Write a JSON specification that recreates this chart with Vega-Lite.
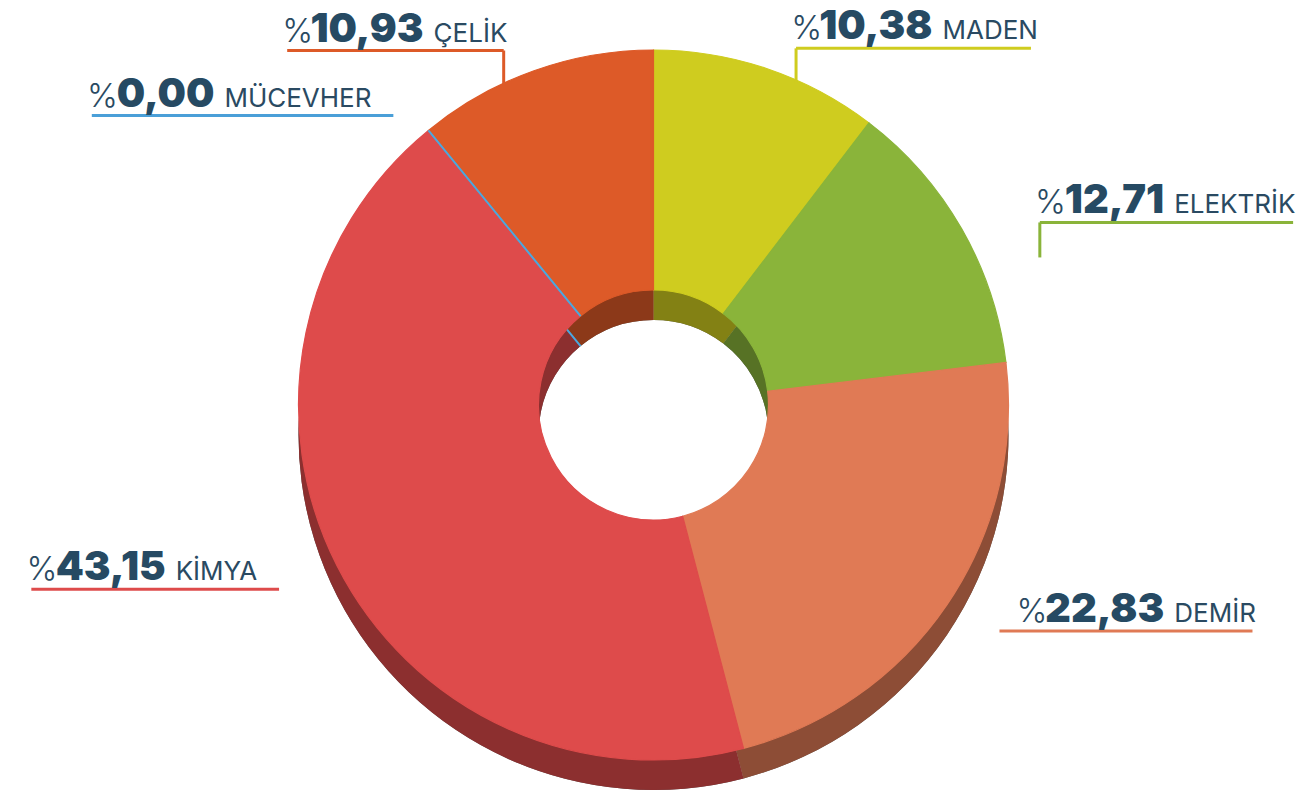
{
  "$schema": "https://vega.github.io/schema/vega-lite/v6.json",
  "width": 1307,
  "height": 776,
  "autosize": {"type": "none"},
  "padding": {"top": 17, "left": 0, "right": 0, "bottom": 0},
  "background": "#ffffff",
  "config": {"view": {"stroke": null}},
  "data": {
    "values": [
      {"cat": "MADEN", "value": 10.38, "order": 1},
      {"cat": "ELEKTRİK", "value": 12.71, "order": 2},
      {"cat": "DEMİR", "value": 22.83, "order": 3},
      {"cat": "KİMYA", "value": 43.15, "order": 4},
      {"cat": "MÜCEVHER", "value": 0.0, "order": 5},
      {"cat": "ÇELİK", "value": 10.93, "order": 6}
    ]
  },
  "transform": [
    {"joinaggregate": [{"op": "sum", "field": "value", "as": "total"}]},
    {"window": [{"op": "sum", "field": "value", "as": "cum"}], "sort": [{"field": "order"}], "frame": [null, 0]},
    {"calculate": "2*PI*(datum.cum - datum.value/2)/datum.total", "as": "mid"},
    {"calculate": "445*sin(datum.mid)", "as": "ax"},
    {"calculate": "386*cos(datum.mid)", "as": "ay"},
    {"calculate": "datum.ax >= 0 ? 1 : -1", "as": "side"},
    {"calculate": "replace(format(datum.value, '.2f'), '.', ',')", "as": "numstr"},
    {"calculate": "26.5*(length(datum.numstr)-1) + 2.1*(length(split(datum.numstr,'0'))-1) - 8.5*(length(split(datum.numstr,'1'))-1) - 1.5*(length(split(datum.numstr,'7'))-1) + 10.8", "as": "numW"},
    {"calculate": "1.04*(16.7*length(datum.cat) - 9.9*(length(split(datum.cat,'İ'))-1) + 4.7*(length(split(datum.cat,'M'))-1) - 3.1*(length(split(datum.cat,'E'))-1 + length(split(datum.cat,'L'))-1) + 2.3*(length(split(datum.cat,'Ü'))-1 + length(split(datum.cat,'C'))-1 + length(split(datum.cat,'V'))-1 + length(split(datum.cat,'H'))-1))", "as": "nameW"},
    {"calculate": "datum.side > 0 ? datum.ax + 26 + datum.numW : datum.ax - datum.nameW - 10", "as": "B"},
    {"calculate": "datum.B - datum.numW", "as": "pctX"},
    {"calculate": "datum.B + 10", "as": "nameX"},
    {"calculate": "datum.B - datum.numW - 26", "as": "start"},
    {"calculate": "datum.B + 10 + datum.nameW", "as": "end"},
    {"calculate": "datum.value > 0 && datum.ay > 150", "as": "vert"},
    {"calculate": "datum.vert ? 0 : 22", "as": "ext"},
    {"calculate": "datum.side > 0 ? datum.start - datum.ext : datum.start", "as": "ux1"},
    {"calculate": "datum.side > 0 ? datum.end : datum.end + datum.ext", "as": "ux2"},
    {"calculate": "datum.ay - 9", "as": "uy"},
    {"calculate": "datum.side > 0 ? datum.start : datum.end", "as": "ex"},
    {"calculate": "datum.ay - 9 - 35", "as": "uy2"}
  ],
  "layer": [
    {
      "mark": {"type": "arc", "outerRadius": 355, "innerRadius": 115, "yOffset": 30, "fill": "#000000"},
      "encoding": {
        "theta": {"field": "value", "type": "quantitative", "stack": true},
        "order": {"field": "order", "type": "quantitative"}
      }
    },
    {
      "mark": {"type": "arc", "outerRadius": 355, "innerRadius": 115, "yOffset": 30, "fillOpacity": 0.63},
      "encoding": {
        "theta": {"field": "value", "type": "quantitative", "stack": true},
        "order": {"field": "order", "type": "quantitative"},
        "color": {"field": "cat", "type": "nominal", "legend": null,
          "scale": {"domain": ["MADEN", "ELEKTRİK", "DEMİR", "KİMYA", "MÜCEVHER", "ÇELİK"],
                    "range": ["#cfcc1f", "#8ab43a", "#e07a55", "#de4b4b", "#4a9fd8", "#dd5a28"]}}
      }
    },
    {
      "mark": {"type": "arc", "outerRadius": 355, "innerRadius": 115, "yOffset": 30, "fillOpacity": 0, "stroke": "#4aa8e0", "strokeWidth": 2},
      "encoding": {
        "theta": {"field": "value", "type": "quantitative", "stack": true},
        "order": {"field": "order", "type": "quantitative"},
        "strokeOpacity": {"condition": {"test": "datum.value == 0", "value": 1}, "value": 0}
      }
    },
    {
      "mark": {"type": "arc", "outerRadius": 355, "innerRadius": 115, "strokeWidth": 1.2},
      "encoding": {
        "theta": {"field": "value", "type": "quantitative", "stack": true},
        "order": {"field": "order", "type": "quantitative"},
        "color": {"field": "cat", "type": "nominal", "legend": null,
          "scale": {"domain": ["MADEN", "ELEKTRİK", "DEMİR", "KİMYA", "MÜCEVHER", "ÇELİK"],
                    "range": ["#cfcc1f", "#8ab43a", "#e07a55", "#de4b4b", "#4a9fd8", "#dd5a28"]}},
        "stroke": {"field": "cat", "type": "nominal", "legend": null,
          "scale": {"domain": ["MADEN", "ELEKTRİK", "DEMİR", "KİMYA", "MÜCEVHER", "ÇELİK"],
                    "range": ["#cfcc1f", "#8ab43a", "#e07a55", "#de4b4b", "#4aa8e0", "#dd5a28"]}}
      }
    },
    {
      "mark": {"type": "arc", "outerRadius": 355, "innerRadius": 115, "fillOpacity": 0, "stroke": "#4aa8e0", "strokeWidth": 2},
      "encoding": {
        "theta": {"field": "value", "type": "quantitative", "stack": true},
        "order": {"field": "order", "type": "quantitative"},
        "strokeOpacity": {"condition": {"test": "datum.value == 0", "value": 1}, "value": 0}
      }
    },
    {
      "mark": {"type": "rule", "strokeWidth": 3},
      "encoding": {
        "x": {"field": "ux1", "type": "quantitative", "axis": null, "scale": {"domain": [-653.5, 653.5], "nice": false, "zero": false}},
        "x2": {"field": "ux2"},
        "y": {"field": "uy", "type": "quantitative", "axis": null, "scale": {"domain": [-388, 388], "nice": false, "zero": false}},
        "color": {"field": "cat", "type": "nominal", "legend": null,
          "scale": {"domain": ["MADEN", "ELEKTRİK", "DEMİR", "KİMYA", "MÜCEVHER", "ÇELİK"],
                    "range": ["#d9d51e", "#9cc43e", "#f0875a", "#f05a5a", "#4aa8e0", "#f0692e"]}}
      }
    },
    {
      "transform": [{"filter": "datum.vert"}],
      "mark": {"type": "rule", "strokeWidth": 3},
      "encoding": {
        "x": {"field": "ex", "type": "quantitative", "axis": null, "scale": {"domain": [-653.5, 653.5], "nice": false, "zero": false}},
        "y": {"field": "uy", "type": "quantitative", "axis": null, "scale": {"domain": [-388, 388], "nice": false, "zero": false}},
        "y2": {"field": "uy2"},
        "color": {"field": "cat", "type": "nominal", "legend": null,
          "scale": {"domain": ["MADEN", "ELEKTRİK", "DEMİR", "KİMYA", "MÜCEVHER", "ÇELİK"],
                    "range": ["#d9d51e", "#9cc43e", "#f0875a", "#f05a5a", "#4aa8e0", "#f0692e"]}}
      }
    },
    {
      "mark": {"type": "text", "text": "%", "align": "right", "baseline": "alphabetic", "font": "Inter", "fontWeight": 300, "fontSize": 33, "color": "#2a4a62"},
      "encoding": {
        "x": {"field": "pctX", "type": "quantitative", "axis": null, "scale": {"domain": [-653.5, 653.5], "nice": false, "zero": false}},
        "y": {"field": "ay", "type": "quantitative", "axis": null, "scale": {"domain": [-388, 388], "nice": false, "zero": false}}
      }
    },
    {
      "mark": {"type": "text", "align": "right", "baseline": "alphabetic", "font": "Inter", "fontWeight": 900, "fontSize": 40, "color": "#264a63"},
      "encoding": {
        "x": {"field": "B", "type": "quantitative", "axis": null, "scale": {"domain": [-653.5, 653.5], "nice": false, "zero": false}},
        "y": {"field": "ay", "type": "quantitative", "axis": null, "scale": {"domain": [-388, 388], "nice": false, "zero": false}},
        "text": {"field": "numstr", "type": "nominal"}
      }
    },
    {
      "mark": {"type": "text", "align": "left", "baseline": "alphabetic", "font": "Inter", "fontWeight": 400, "fontSize": 26, "color": "#2a4a62"},
      "encoding": {
        "x": {"field": "nameX", "type": "quantitative", "axis": null, "scale": {"domain": [-653.5, 653.5], "nice": false, "zero": false}},
        "y": {"field": "ay", "type": "quantitative", "axis": null, "scale": {"domain": [-388, 388], "nice": false, "zero": false}},
        "text": {"field": "cat", "type": "nominal"}
      }
    }
  ]
}
